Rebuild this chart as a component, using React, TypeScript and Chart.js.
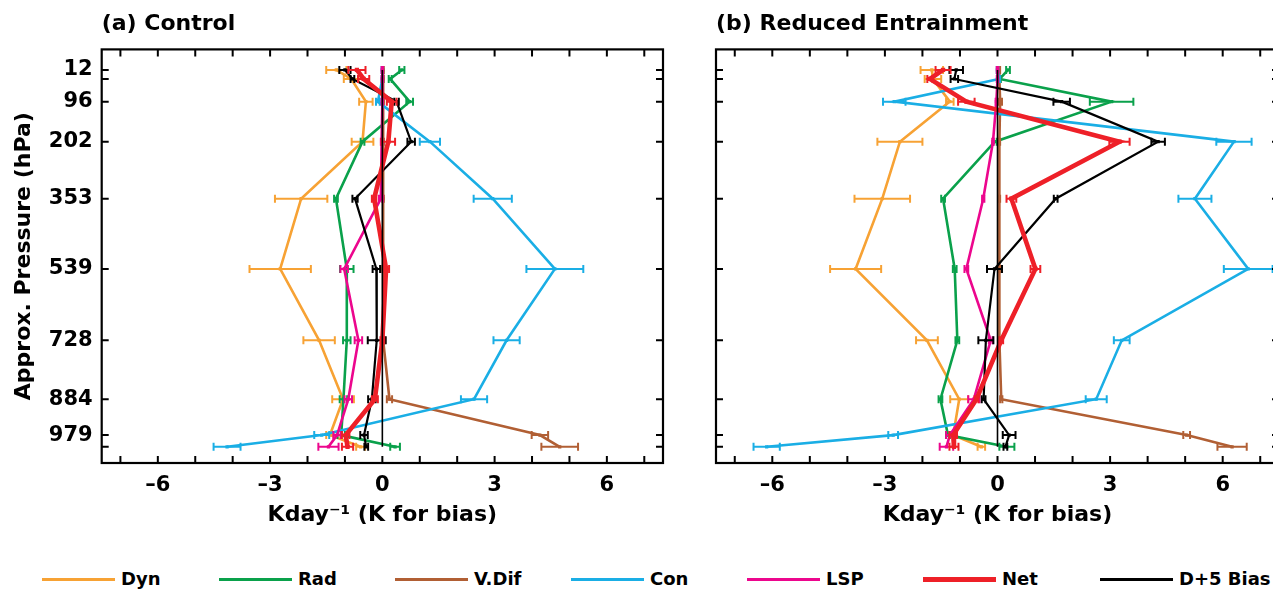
import React, { useEffect, useRef } from 'react';
import { Chart, registerables } from 'chart.js';

Chart.register(...registerables);

const FONT = '"DejaVu Sans", "Liberation Sans", Arial, sans-serif';

// Approximate pressure levels (hPa) and their tick labels
const levels = [12, 36, 96, 202, 353, 539, 728, 884, 979, 1010];
const levelLabels = ['12', '', '96', '202', '353', '539', '728', '884', '979', ''];
const xTickValues = [-7, -6, -5, -4, -3, -2, -1, 0, 1, 2, 3, 4, 5, 6, 7];
const xTickLabels: Record<string, string> = { '-6': '\u20136', '-3': '\u20133', '0': '0', '3': '3', '6': '6' };
const zeroRef = [0, 0, 0, 0, 0, 0, 0, 0, 0, 0];

const seriesNames = ['Dyn', 'Rad', 'V.Dif', 'Con', 'LSP', 'Net', 'D+5 Bias'];
const seriesColors = ['#F7A234', '#0AA14B', '#B15F34', '#1AAEE5', '#EC068D', '#EE2028', '#000000'];
const seriesWidths = [2.6, 2.6, 2.6, 2.6, 2.6, 4.6, 2.2];

// (a) Control
const ctlDyn = [-1.23, -0.83, -0.44, -0.53, -2.17, -2.73, -1.69, -1.05, -1.4, -0.58];
const ctlRad = [0.52, 0.21, 0.73, -0.53, -1.24, -0.95, -0.95, -1.04, -1.1, 0.34];
const ctlVDif = [0.02, 0.02, 0.02, 0.02, 0.02, 0.02, 0.03, 0.19, 4.21, 4.74];
const ctlCon = [0.0, 0.0, -0.12, 1.27, 2.95, 4.61, 3.32, 2.45, -1.62, -4.15];
const ctlLSP = [0.0, 0.0, 0.0, -0.02, -0.04, -1.02, -0.64, -0.91, -1.21, -1.44];
const ctlNet = [-0.68, -0.5, 0.25, 0.16, -0.22, 0.1, 0.0, -0.2, -0.98, -0.93];
const ctlBias = [-1.0, -0.8, 0.38, 0.77, -0.73, -0.16, -0.15, -0.28, -0.49, -0.43];

const ctlDynErr = [0.27, 0.2, 0.18, 0.29, 0.7, 0.82, 0.42, 0.29, 0.1, 0.12];
const ctlRadErr = [0.07, 0.04, 0.09, 0.05, 0.05, 0.18, 0.1, 0.1, 0.1, 0.13];
const ctlVDifErr = [0.02, 0.02, 0.02, 0.02, 0.02, 0.02, 0.02, 0.07, 0.22, 0.49];
const ctlConErr = [0.02, 0.02, 0.05, 0.27, 0.51, 0.76, 0.35, 0.35, 0.2, 0.36];
const ctlLSPErr = [0.02, 0.02, 0.02, 0.02, 0.05, 0.1, 0.1, 0.1, 0.1, 0.27];
const ctlNetErr = [0.23, 0.15, 0.13, 0.18, 0.06, 0.08, 0.05, 0.08, 0.1, 0.15];
const ctlBiasErr = [0.15, 0.05, 0.06, 0.1, 0.07, 0.1, 0.24, 0.1, 0.1, 0.05];

// (b) Reduced Entrainment
const reDyn = [-1.75, -1.72, -1.27, -2.6, -3.07, -3.78, -1.88, -1.02, -1.18, -0.43];
const reRad = [0.28, 0.06, 3.04, -0.07, -1.45, -1.14, -1.07, -1.52, -1.32, 0.25];
const reVDif = [0.05, 0.05, 0.07, 0.05, 0.05, 0.05, 0.05, 0.1, 5.04, 6.25];
const reCon = [0.0, 0.04, -2.75, 6.3, 5.26, 6.68, 3.31, 2.63, -2.78, -6.15];
const reLSP = [0.0, 0.0, -0.03, -0.12, -0.38, -0.83, -0.18, -0.63, -1.27, -1.36];
const reNet = [-1.45, -1.8, -0.83, 3.25, 0.37, 1.01, 0.1, -0.56, -1.18, -1.16];
const reBias = [-1.1, -1.15, 1.71, 4.28, 1.55, -0.08, -0.31, -0.37, 0.31, 0.21];

const reDynErr = [0.3, 0.22, 0.1, 0.6, 0.74, 0.68, 0.29, 0.24, 0.1, 0.1];
const reRadErr = [0.05, 0.03, 0.58, 0.05, 0.05, 0.05, 0.05, 0.05, 0.05, 0.2];
const reVDifErr = [0.02, 0.02, 0.05, 0.02, 0.02, 0.02, 0.02, 0.03, 0.09, 0.39];
const reConErr = [0.02, 0.03, 0.3, 0.47, 0.44, 0.65, 0.21, 0.28, 0.13, 0.35];
const reLSPErr = [0.02, 0.02, 0.02, 0.02, 0.03, 0.05, 0.05, 0.15, 0.1, 0.18];
const reNetErr = [0.2, 0.07, 0.22, 0.27, 0.13, 0.13, 0.05, 0.05, 0.1, 0.12];
const reBiasErr = [0.18, 0.1, 0.22, 0.18, 0.05, 0.2, 0.2, 0.05, 0.17, 0.05];

const errorBarPlugin = {
  id: 'errorBars',
  afterDatasetDraw(chart: any, args: any) {
    const ds = chart.data.datasets[args.index];
    const errs: number[] | undefined = ds.errors;
    if (!errs) return;
    const { ctx, chartArea, scales } = chart;
    const xs = scales.x;
    const ys = scales.y;
    ctx.save();
    ctx.beginPath();
    ctx.rect(chartArea.left, chartArea.top, chartArea.right - chartArea.left, chartArea.bottom - chartArea.top);
    ctx.clip();
    ctx.strokeStyle = ds.borderColor;
    ctx.lineWidth = 2;
    ds.data.forEach((p: any, i: number) => {
      const e = errs[i];
      if (!e) return;
      const y0 = ys.getPixelForValue(p.y);
      const xl = xs.getPixelForValue(p.x - e);
      const xr = xs.getPixelForValue(p.x + e);
      ctx.beginPath();
      ctx.moveTo(xl, y0);
      ctx.lineTo(xr, y0);
      ctx.moveTo(xl, y0 - 4);
      ctx.lineTo(xl, y0 + 4);
      ctx.moveTo(xr, y0 - 4);
      ctx.lineTo(xr, y0 + 4);
      ctx.stroke();
    });
    ctx.restore();
  },
};

const framePlugin = {
  id: 'frame',
  afterDraw(chart: any) {
    const { ctx, chartArea, scales } = chart;
    const { left, right, top, bottom } = chartArea;
    const xs = scales.x;
    const ys = scales.y;
    ctx.save();
    ctx.strokeStyle = '#000';
    ctx.lineWidth = 2;
    ctx.beginPath();
    const len = 7;
    xs.ticks.forEach((t: any) => {
      const px = xs.getPixelForValue(t.value);
      ctx.moveTo(px, bottom);
      ctx.lineTo(px, bottom - len);
      ctx.moveTo(px, top);
      ctx.lineTo(px, top + len);
    });
    ys.ticks.forEach((t: any) => {
      const py = ys.getPixelForValue(t.value);
      ctx.moveTo(left, py);
      ctx.lineTo(left + len, py);
      ctx.moveTo(right, py);
      ctx.lineTo(right - len, py);
    });
    ctx.stroke();
    ctx.lineWidth = 2.2;
    ctx.strokeRect(left, top, right - left, bottom - top);
    ctx.restore();
  },
};

type PanelProps = {
  title: string;
  values: number[][];
  errors: number[][];
  showYTitle: boolean;
  showYLabels: boolean;
  yAxisWidth: number;
  width: number;
  height: number;
  padRight: number;
  left: number;
};

function Panel(props: PanelProps) {
  const ref = useRef<HTMLCanvasElement | null>(null);
  useEffect(() => {
    if (!ref.current) return;
    const drawOrder = [5, 6, 4, 3, 2, 1, 0]; // first = top-most
    const datasets: any[] = [
      {
        label: 'zero',
        data: zeroRef.map((v, i) => ({ x: v, y: levels[i] })),
        borderColor: '#000',
        borderWidth: 1.6,
        pointRadius: 0,
        tension: 0,
      },
    ];
    drawOrder.forEach((k) => {
      datasets.push({
        label: seriesNames[k],
        data: props.values[k].map((v, i) => ({ x: v, y: levels[i] })),
        errors: props.errors[k],
        borderColor: seriesColors[k],
        backgroundColor: seriesColors[k],
        borderWidth: seriesWidths[k],
        pointStyle: 'rect',
        pointRadius: k === 5 ? 3 : 2.3,
        pointBorderWidth: 0,
        tension: 0,
      });
    });
    const tickFont = { family: FONT, size: 21, weight: 'bold' as const };
    const titleFont = { family: FONT, size: 22, weight: 'bold' as const };
    const chart = new Chart(ref.current, {
      type: 'line',
      data: { datasets },
      plugins: [errorBarPlugin, framePlugin],
      options: {
        animation: false,
        responsive: false,
        indexAxis: 'y',
        events: [],
        layout: { padding: { top: 0, right: props.padRight, bottom: 0, left: 0 } },
        plugins: {
          legend: { display: false },
          tooltip: { enabled: false },
          title: {
            display: true,
            text: props.title,
            align: 'start',
            fullSize: false,
            color: '#000',
            font: { family: FONT, size: 22, weight: 'bold' },
            padding: { top: 11, bottom: 12 },
          },
        },
        scales: {
          x: {
            type: 'linear',
            position: 'bottom',
            min: -7.5,
            max: 7.5,
            afterBuildTicks: (s: any) => {
              s.ticks = xTickValues.map((v) => ({ value: v }));
            },
            ticks: {
              autoSkip: false,
              maxRotation: 0,
              padding: 10,
              color: '#000',
              font: tickFont,
              callback: (v: any) => xTickLabels[String(Math.round(Number(v)))] ?? '',
            },
            grid: { display: false, drawTicks: false },
            border: { display: false },
            title: {
              display: true,
              text: 'Kday\u207B\u00B9 (K for bias)',
              color: '#000',
              font: titleFont,
              padding: { top: 0, bottom: 17 },
            },
            afterFit: (s: any) => {
              s.height = 82;
            },
          },
          y: {
            type: 'linear',
            position: 'left',
            reverse: true,
            min: -42.3,
            max: 1052.9,
            afterBuildTicks: (s: any) => {
              s.ticks = levels.map((v) => ({ value: v }));
            },
            ticks: {
              autoSkip: false,
              padding: 9,
              color: '#000',
              font: tickFont,
              callback: (v: any) => {
                if (!props.showYLabels) return '';
                const i = levels.indexOf(Number(v));
                return i >= 0 ? levelLabels[i] : '';
              },
            },
            grid: { display: false, drawTicks: false },
            border: { display: false },
            title: {
              display: props.showYTitle,
              text: 'Approx. Pressure (hPa)',
              color: '#000',
              font: titleFont,
              padding: { top: 11, bottom: 0 },
            },
            afterFit: (s: any) => {
              s.width = props.yAxisWidth;
            },
          },
        },
      } as any,
    });
    return () => chart.destroy();
  }, []);
  return (
    <canvas
      ref={ref}
      width={props.width}
      height={props.height}
      style={{ position: 'absolute', left: props.left, top: 0, width: props.width, height: props.height }}
    />
  );
}

const legendStarts = [42, 219, 395, 571, 747, 923, 1100];

function Legend() {
  return (
    <>
      {seriesNames.map((name, k) => (
        <div
          key={name}
          style={{
            position: 'absolute',
            left: legendStarts[k],
            top: 566,
            height: 26,
            display: 'flex',
            alignItems: 'center',
            whiteSpace: 'nowrap',
          }}
        >
          <div style={{ width: 73, height: k === 5 ? 5 : 3, background: seriesColors[k] }} />
          <span
            style={{
              marginLeft: 6,
              fontFamily: FONT,
              fontWeight: 'bold',
              fontSize: 18,
              color: '#000',
              lineHeight: '26px',
            }}
          >
            {name}
          </span>
        </div>
      ))}
    </>
  );
}

export default function App() {
  return (
    <div
      style={{
        position: 'fixed',
        left: 0,
        top: 0,
        width: '100vw',
        height: '100vh',
        overflow: 'hidden',
        background: '#fff',
      }}
    >
      <Panel
        title="(a) Control"
        values={[ctlDyn, ctlRad, ctlVDif, ctlCon, ctlLSP, ctlNet, ctlBias]}
        errors={[ctlDynErr, ctlRadErr, ctlVDifErr, ctlConErr, ctlLSPErr, ctlNetErr, ctlBiasErr]}
        showYTitle={true}
        showYLabels={true}
        yAxisWidth={101.7}
        width={690}
        height={545}
        padRight={27}
        left={0}
      />
      <Panel
        title="(b) Reduced Entrainment"
        values={[reDyn, reRad, reVDif, reCon, reLSP, reNet, reBias]}
        errors={[reDynErr, reRadErr, reVDifErr, reConErr, reLSPErr, reNetErr, reBiasErr]}
        showYTitle={false}
        showYLabels={false}
        yAxisWidth={26}
        width={600}
        height={545}
        padRight={11}
        left={690}
      />
      <Legend />
    </div>
  );
}
